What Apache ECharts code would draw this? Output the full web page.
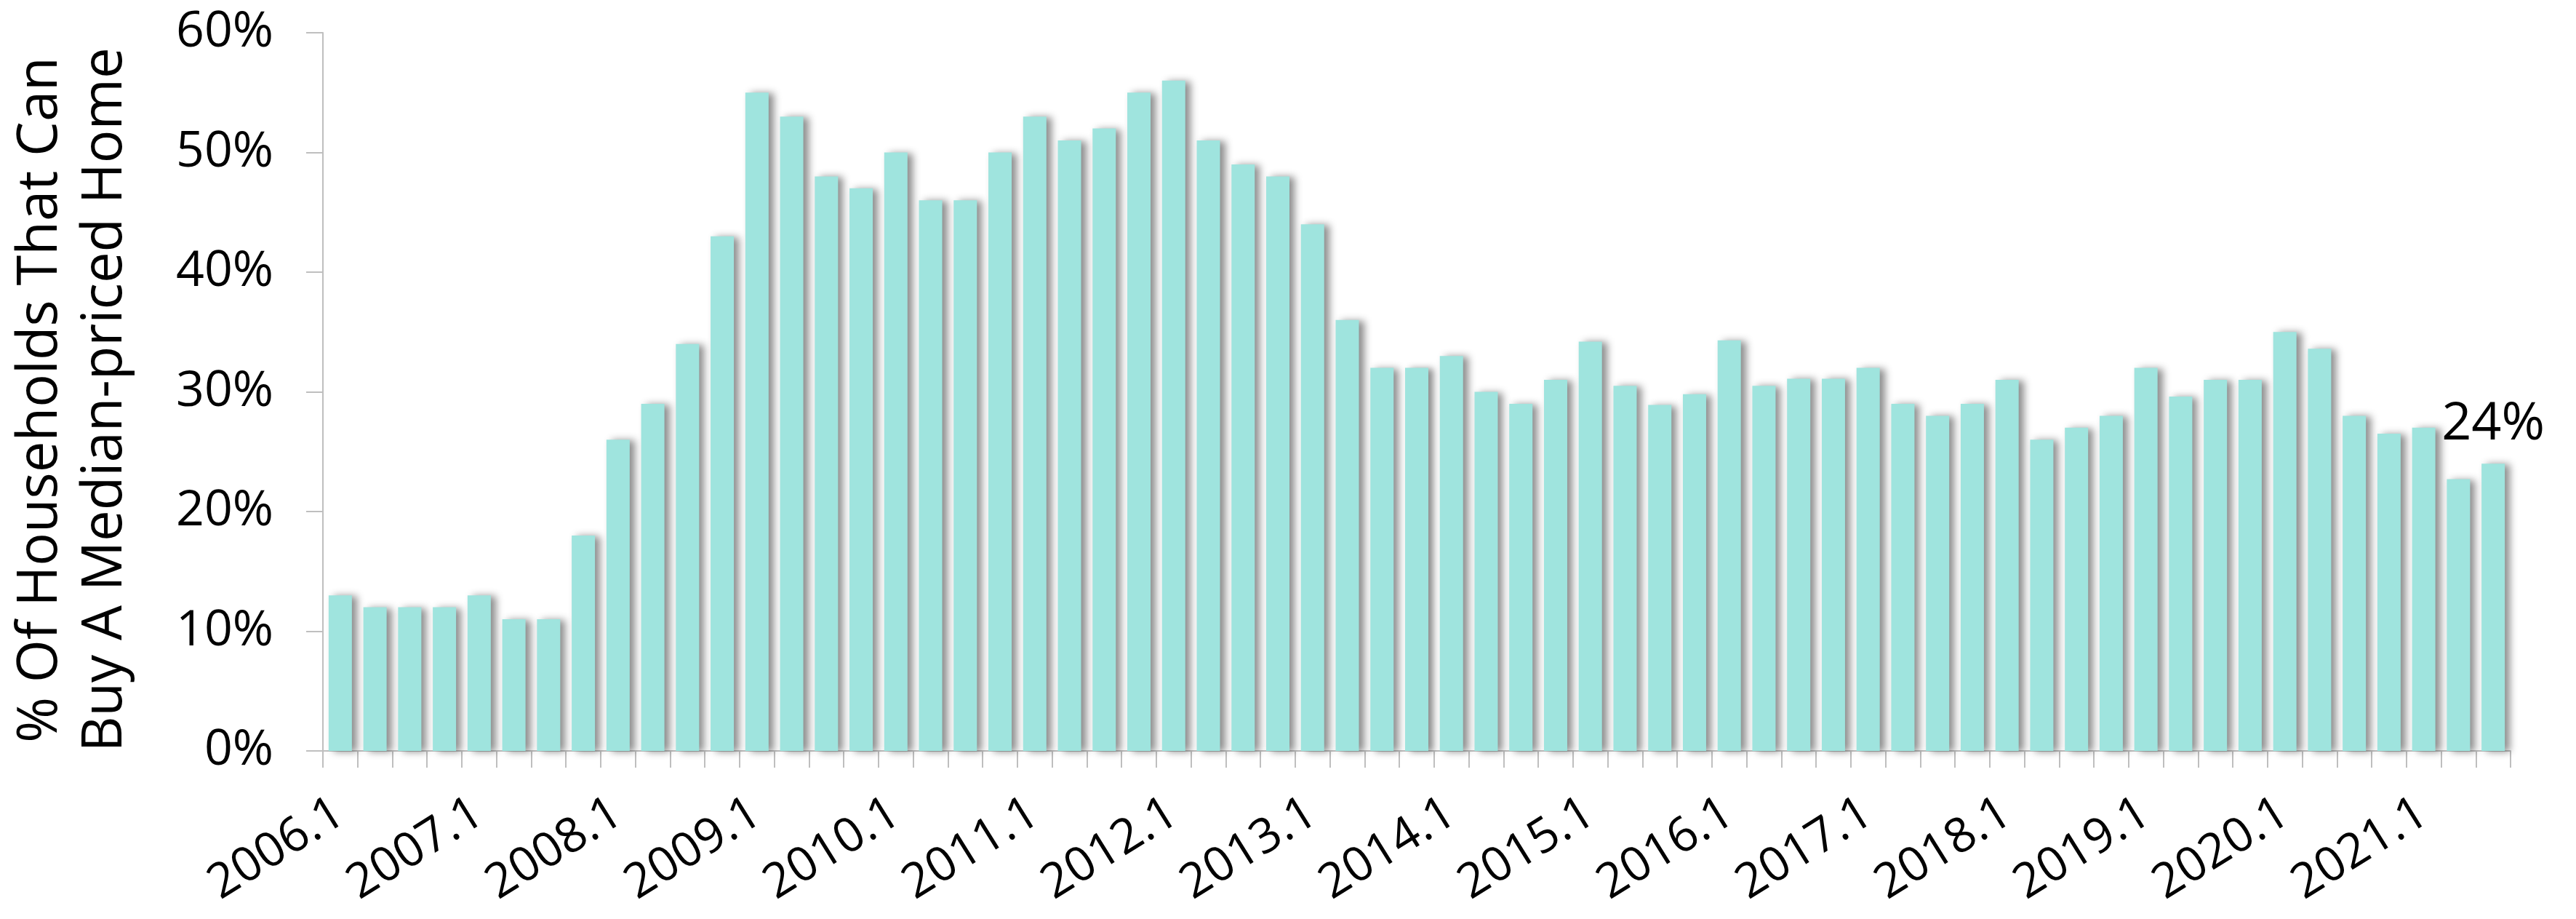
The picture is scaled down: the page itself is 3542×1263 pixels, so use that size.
<!DOCTYPE html>
<html>
<head>
<meta charset="utf-8">
<title>Housing Affordability</title>
<script src="https://cdn.jsdelivr.net/npm/echarts@6/dist/echarts.min.js"></script>
<style>
  html, body { margin: 0; padding: 0; background: #ffffff; }
  #chart { width: 3542px; height: 1263px; }
</style>
</head>
<body>
<div id="chart"></div>
<script>
// Quarterly periods, 2006 Q1 through 2021 Q3
const quarters = [
  '2006.1','2006.2','2006.3','2006.4',
  '2007.1','2007.2','2007.3','2007.4',
  '2008.1','2008.2','2008.3','2008.4',
  '2009.1','2009.2','2009.3','2009.4',
  '2010.1','2010.2','2010.3','2010.4',
  '2011.1','2011.2','2011.3','2011.4',
  '2012.1','2012.2','2012.3','2012.4',
  '2013.1','2013.2','2013.3','2013.4',
  '2014.1','2014.2','2014.3','2014.4',
  '2015.1','2015.2','2015.3','2015.4',
  '2016.1','2016.2','2016.3','2016.4',
  '2017.1','2017.2','2017.3','2017.4',
  '2018.1','2018.2','2018.3','2018.4',
  '2019.1','2019.2','2019.3','2019.4',
  '2020.1','2020.2','2020.3','2020.4',
  '2021.1','2021.2','2021.3'
];

// Share of households able to buy a median-priced home (%)
const affordability = [
  13, 12, 12, 12,
  13, 11, 11, 18,
  26, 29, 34, 43,
  55, 53, 48, 47,
  50, 46, 46, 50,
  53, 51, 52, 55,
  56, 51, 49, 48,
  44, 36, 32, 32,
  33, 30, 29, 31,
  34.2, 30.5, 28.9, 29.8,
  34.3, 30.5, 31.1, 31.1,
  32, 29, 28, 29,
  31, 26, 27, 28,
  32, 29.6, 31, 31,
  35, 33.6, 28, 26.5,
  27, 22.7, 24
];

// Y axis ticks (percent)
const yTicks = { min: 0, max: 60, step: 10 };

const axisTitle = '% Of Households That Can\nBuy A Median-priced Home';
const FONT = 'Open Sans';

// Only the latest quarter carries a value label
const lastIdx = affordability.length - 1;
const barData = affordability.map((v, i) => i === lastIdx
  ? { value: v, label: { show: true } }
  : v);

const chart = echarts.init(document.getElementById('chart'));
chart.setOption({
  animation: false,
  backgroundColor: '#ffffff',
  grid: {
    left: 444, right: 90, top: 45, bottom: 231,
    containLabel: false,
    outerBoundsMode: 'none'
  },
  xAxis: {
    type: 'category',
    data: quarters,
    boundaryGap: true,
    axisLine: { lineStyle: { color: '#BFBFBF', width: 2 } },
    axisTick: { show: true, interval: 0, length: 23, lineStyle: { color: '#BFBFBF', width: 2 } },
    axisLabel: {
      interval: 3,
      rotate: 32,
      margin: 80,
      color: '#000',
      fontFamily: FONT,
      fontSize: 66
    }
  },
  yAxis: {
    type: 'value',
    min: yTicks.min,
    max: yTicks.max,
    interval: yTicks.step,
    splitLine: { show: false },
    axisLine: { show: true, lineStyle: { color: '#BFBFBF', width: 2 } },
    axisTick: { show: true, length: 23, lineStyle: { color: '#BFBFBF', width: 2 } },
    axisLabel: {
      formatter: '{value}%',
      margin: 68,
      color: '#000',
      fontFamily: FONT,
      fontSize: 68
    },
    name: axisTitle,
    nameLocation: 'middle',
    nameRotate: 90,
    nameGap: 254,
    nameTextStyle: {
      color: '#000',
      fontFamily: FONT,
      fontSize: 76,
      lineHeight: 89,
      align: 'center',
      padding: [0, 22, 0, 0]
    }
  },
  series: [{
    type: 'bar',
    data: barData,
    barWidth: '67%',
    itemStyle: {
      color: '#9FE4DE',
      shadowColor: 'rgba(0,0,0,0.45)',
      shadowBlur: 10,
      shadowOffsetX: 7,
      shadowOffsetY: 1
    },
    label: {
      show: false,
      position: 'top',
      distance: 18,
      formatter: '{c}%',
      color: '#000',
      fontFamily: FONT,
      fontSize: 72
    }
  }]
});
</script>
</body>
</html>
